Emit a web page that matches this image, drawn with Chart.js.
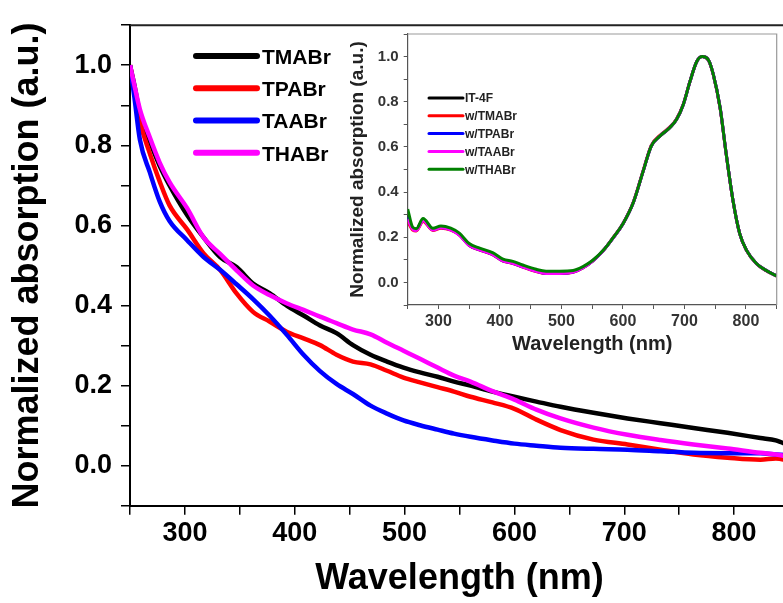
<!DOCTYPE html>
<html>
<head>
<meta charset="utf-8">
<script src="https://cdn.jsdelivr.net/npm/chart.js@4.4.1/dist/chart.umd.min.js"></script>
<style>
  body { margin: 0; background: #fff; }
  #wrap { position: relative; width: 783px; height: 603px; overflow: hidden; }
  #main { position: absolute; left: 0; top: 0; }
  #inset { position: absolute; left: 345px; top: 20px; }
</style>
</head>
<body>
<div id="wrap">
  <canvas id="main" width="800" height="603"></canvas>
  <canvas id="inset" width="438" height="345"></canvas>
</div>
<script>
// main plot data (wavelength in nm, normalized absorption)
const mainWave = [250, 254, 259, 268, 277, 286, 302, 317, 332, 347, 362, 377, 393, 408, 423, 438, 453, 469, 484, 499, 514, 530, 545, 560, 580, 600, 620, 642, 672, 703, 733, 763, 794, 824, 838, 850];
const tmabr = [1.0, 0.95, 0.88, 0.81, 0.749, 0.70, 0.626, 0.57, 0.521, 0.496, 0.455, 0.431, 0.399, 0.375, 0.35, 0.331, 0.301, 0.277, 0.26, 0.245, 0.233, 0.222, 0.21, 0.20, 0.185, 0.172, 0.16, 0.147, 0.132, 0.118, 0.106, 0.094, 0.082, 0.069, 0.063, 0.05];
const tpabr = [1.0, 0.94, 0.86, 0.78, 0.71, 0.65, 0.59, 0.53, 0.489, 0.43, 0.384, 0.36, 0.334, 0.318, 0.301, 0.277, 0.26, 0.253, 0.237, 0.22, 0.208, 0.196, 0.185, 0.172, 0.158, 0.142, 0.115, 0.089, 0.065, 0.053, 0.04, 0.028, 0.02, 0.015, 0.018, 0.012];
const taabr = [1.0, 0.92, 0.814, 0.733, 0.66, 0.611, 0.563, 0.521, 0.489, 0.453, 0.416, 0.375, 0.326, 0.277, 0.236, 0.204, 0.179, 0.15, 0.13, 0.113, 0.101, 0.09, 0.08, 0.072, 0.063, 0.055, 0.05, 0.045, 0.042, 0.04, 0.036, 0.032, 0.031, 0.031, 0.028, 0.026];
const thabr = [1.0, 0.95, 0.89, 0.82, 0.757, 0.708, 0.643, 0.57, 0.529, 0.488, 0.45, 0.426, 0.405, 0.389, 0.372, 0.356, 0.34, 0.328, 0.307, 0.287, 0.267, 0.245, 0.225, 0.21, 0.186, 0.165, 0.14, 0.118, 0.095, 0.077, 0.064, 0.053, 0.043, 0.032, 0.028, 0.022];
const mainNames = ["TMABr", "TPABr", "TAABr", "THABr"];
const mainColors = ["#000000", "#ff0000", "#0000ff", "#ff00ff"];

// inset data
const insetWave = [250, 258, 264, 275, 291, 304, 320, 334, 350, 367, 388, 405, 421, 437, 459, 475, 497, 519, 535, 551, 568, 584, 600, 617, 633, 646, 660, 676, 687, 698, 709, 720, 729, 739, 747, 758, 768, 779, 790, 801, 817, 834, 850];
const it4f = [0.30, 0.24, 0.235, 0.278, 0.236, 0.245, 0.236, 0.213, 0.166, 0.146, 0.126, 0.097, 0.087, 0.071, 0.052, 0.043, 0.043, 0.048, 0.066, 0.096, 0.141, 0.197, 0.259, 0.354, 0.493, 0.603, 0.647, 0.684, 0.72, 0.786, 0.889, 0.977, 1.0, 0.985, 0.92, 0.773, 0.567, 0.362, 0.215, 0.142, 0.084, 0.051, 0.029];
const wTmabr = [0.27, 0.232, 0.228, 0.27, 0.23, 0.24, 0.232, 0.21, 0.163, 0.143, 0.123, 0.094, 0.084, 0.068, 0.048, 0.039, 0.039, 0.045, 0.064, 0.095, 0.141, 0.198, 0.261, 0.357, 0.497, 0.607, 0.651, 0.688, 0.724, 0.789, 0.891, 0.978, 1.0, 0.984, 0.918, 0.77, 0.565, 0.36, 0.214, 0.141, 0.083, 0.05, 0.028];
const wTpabr = [0.29, 0.238, 0.232, 0.275, 0.233, 0.243, 0.234, 0.211, 0.164, 0.144, 0.124, 0.095, 0.085, 0.069, 0.05, 0.041, 0.041, 0.046, 0.065, 0.095, 0.141, 0.197, 0.26, 0.355, 0.494, 0.604, 0.648, 0.685, 0.721, 0.787, 0.89, 0.978, 1.0, 0.985, 0.92, 0.773, 0.567, 0.362, 0.215, 0.142, 0.084, 0.051, 0.029];
const wTaabr = [0.28, 0.236, 0.23, 0.273, 0.232, 0.242, 0.233, 0.21, 0.164, 0.144, 0.124, 0.095, 0.085, 0.069, 0.049, 0.04, 0.04, 0.046, 0.065, 0.096, 0.141, 0.197, 0.26, 0.355, 0.494, 0.604, 0.648, 0.685, 0.721, 0.787, 0.89, 0.978, 1.0, 0.985, 0.92, 0.773, 0.567, 0.362, 0.215, 0.142, 0.084, 0.051, 0.029];
const wThabr = [0.325, 0.245, 0.238, 0.283, 0.24, 0.25, 0.24, 0.218, 0.172, 0.152, 0.132, 0.103, 0.093, 0.077, 0.058, 0.05, 0.05, 0.053, 0.07, 0.098, 0.142, 0.198, 0.26, 0.355, 0.494, 0.604, 0.648, 0.685, 0.721, 0.787, 0.89, 0.978, 1.0, 0.985, 0.92, 0.773, 0.567, 0.362, 0.215, 0.142, 0.084, 0.051, 0.029];
const insetNames = ["IT-4F", "w/TMABr", "w/TPABr", "w/TAABr", "w/THABr"];
const insetColors = ["#000000", "#ff0000", "#0000ff", "#ff00ff", "#008000"];

const FONT = "'Liberation Sans', Arial, sans-serif";

const toPoints = (xs, ys) => xs.map((x, i) => ({ x: x, y: ys[i] }));

// top/right frame + a legend drawn inside the plot
const frameAndKey = {
  id: "frameAndKey",
  afterDraw(chart, args, opts) {
    const { ctx, chartArea: a } = chart;
    ctx.save();
    ctx.strokeStyle = opts.frameColor;
    ctx.lineWidth = opts.frameWidth;
    ctx.beginPath();
    ctx.moveTo(a.left, a.top);
    ctx.lineTo(a.right, a.top);
    ctx.lineTo(a.right, a.bottom);
    ctx.stroke();

    ctx.font = opts.font;
    ctx.textBaseline = "middle";
    ctx.textAlign = "left";
    ctx.lineCap = "round";
    chart.data.datasets.forEach((ds, i) => {
      const y = a.top + opts.y0 + i * opts.gap;
      const x = a.left + opts.x0;
      ctx.strokeStyle = ds.borderColor;
      ctx.lineWidth = opts.lineWidth;
      ctx.beginPath();
      ctx.moveTo(x, y);
      ctx.lineTo(x + opts.len, y);
      ctx.stroke();
      ctx.fillStyle = opts.textColor;
      ctx.fillText(ds.label, x + opts.len + opts.textGap, y + opts.textShift);
    });
    ctx.restore();
  },
};

const yLabel = (v) => (Math.round(v * 10) % 2 === 0 ? v.toFixed(1) : "");
const xLabel = (v) => (Math.round(v) % 100 === 0 ? v : "");

//main chart
new Chart(document.getElementById("main").getContext("2d"), {
  type: "line",
  data: {
    datasets: [tmabr, tpabr, taabr, thabr].map((ys, i) => ({
      label: mainNames[i],
      data: toPoints(mainWave, ys),
      borderColor: mainColors[i],
      borderWidth: 4.5,
      pointRadius: 0,
      cubicInterpolationMode: "monotone",
      order: 3 - i,
    })),
  },
  options: {
    responsive: false,
    animation: false,
    events: [],
    layout: { padding: { left: 0, top: 14.3, right: 11, bottom: 0 } },
    plugins: {
      legend: { display: false },
      tooltip: { enabled: false },
      frameAndKey: {
        frameColor: "#222",
        frameWidth: 2,
        font: "bold 21px " + FONT,
        textColor: "#000",
        x0: 66,
        y0: 30.7,
        gap: 32.3,
        len: 61,
        textGap: 5,
        textShift: 2,
        lineWidth: 6,
      },
    },
    scales: {
      x: {
        type: "linear",
        min: 250,
        max: 850,
        afterFit: (s) => { s.height = 97.3; },
        ticks: {
          stepSize: 50,
          autoSkip: false,
          maxRotation: 0,
          padding: 3,
          color: "#000",
          font: { family: FONT, size: 27, weight: "bold" },
          callback: xLabel,
        },
        grid: { drawOnChartArea: false, tickLength: 9, color: "#000", lineWidth: 1.5 },
        border: { color: "#000", width: 2 },
        title: {
          display: true,
          text: "Wavelength (nm)",
          color: "#000",
          font: { family: FONT, size: 36, weight: "bold" },
          padding: { top: 0, bottom: 2 },
        },
      },
      y: {
        min: -0.1,
        max: 1.1,
        afterFit: (s) => { s.width = 130; },
        ticks: {
          stepSize: 0.1,
          autoSkip: false,
          padding: 9,
          color: "#000",
          font: { family: FONT, size: 27, weight: "bold" },
          callback: yLabel,
        },
        grid: { drawOnChartArea: false, tickLength: 9, color: "#000", lineWidth: 1.5 },
        border: { color: "#000", width: 2 },
        title: {
          display: true,
          text: "Normalized absorption (a.u.)",
          color: "#000",
          font: { family: FONT, size: 36, weight: "bold" },
          padding: { top: 6, bottom: 0 },
        },
      },
    },
  },
  plugins: [frameAndKey],
});

//inset chart
new Chart(document.getElementById("inset").getContext("2d"), {
  type: "line",
  data: {
    datasets: [it4f, wTmabr, wTpabr, wTaabr, wThabr].map((ys, i) => ({
      label: insetNames[i],
      data: toPoints(insetWave, ys),
      borderColor: insetColors[i],
      borderWidth: 3,
      pointRadius: 0,
      cubicInterpolationMode: "monotone",
      order: 4 - i,
    })),
  },
  options: {
    responsive: false,
    animation: false,
    events: [],
    layout: { padding: { left: 0, top: 12.7, right: 6.3, bottom: 0 } },
    plugins: {
      legend: { display: false },
      tooltip: { enabled: false },
      frameAndKey: {
        frameColor: "#999",
        frameWidth: 1.2,
        font: "bold 12px " + FONT,
        textColor: "#222",
        x0: 21.3,
        y0: 64,
        gap: 17.8,
        len: 34,
        textGap: 2,
        textShift: 1,
        lineWidth: 3,
      },
    },
    scales: {
      x: {
        type: "linear",
        min: 250,
        max: 850,
        afterFit: (s) => { s.height = 60; },
        ticks: {
          stepSize: 50,
          autoSkip: false,
          maxRotation: 0,
          padding: 3,
          color: "#333",
          font: { family: FONT, size: 16, weight: "bold" },
          callback: xLabel,
        },
        grid: { drawOnChartArea: false, tickLength: 4, color: "#555", lineWidth: 1 },
        border: { color: "#555", width: 1.2 },
        title: {
          display: true,
          text: "Wavelength (nm)",
          color: "#222",
          font: { family: FONT, size: 20, weight: "bold" },
          padding: { top: 0, bottom: 9 },
        },
      },
      y: {
        min: -0.1,
        max: 1.1,
        afterFit: (s) => { s.width = 62.7; },
        ticks: {
          stepSize: 0.1,
          autoSkip: false,
          padding: 5,
          color: "#333",
          font: { family: FONT, size: 15, weight: "bold" },
          callback: yLabel,
        },
        grid: { drawOnChartArea: false, tickLength: 4, color: "#555", lineWidth: 1 },
        border: { color: "#555", width: 1.2 },
        title: {
          display: true,
          text: "Normalized absorption (a.u.)",
          color: "#222",
          font: { family: FONT, size: 19, weight: "bold" },
          padding: { top: 1.5, bottom: 0 },
        },
      },
    },
  },
  plugins: [frameAndKey],
});
</script>
</body>
</html>
